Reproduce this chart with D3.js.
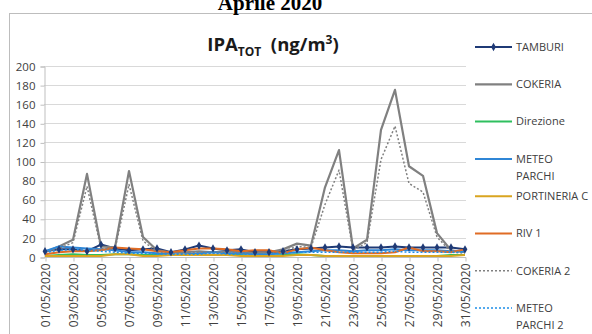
<!DOCTYPE html>
<html>
<head>
<meta charset="utf-8">
<script src="https://cdn.jsdelivr.net/npm/d3@7"></script>
<style>
  body { margin: 0; background: #fff; }
  svg { display: block; }
  text { white-space: pre; }
</style>
</head>
<body>
<script>
// ---------- DATA ----------
const days = d3.range(1, 32).map(d => (d < 10 ? "0" + d : "" + d) + "/05/2020");
const yTicks = [0, 20, 40, 60, 80, 100, 120, 140, 160, 180, 200];

const tamburi     = [6, 8, 8, 6, 13, 9, 7, 8, 9, 5, 8, 12, 9, 7, 8, 5, 5, 6, 8, 9, 10, 11, 10, 10, 10, 11, 10, 10, 10, 10, 8];
const cokeria     = [5, 11, 18, 87, 11, 10, 90, 21, 7, 5, 5, 6, 5, 6, 5, 4, 5, 8, 14, 12, 73, 112, 9, 18, 133, 175, 95, 85, 25, 7, 5];
const direzione   = [1, 2, 3, 2, 2, 3, 3, 2, 2, 2, 2, 2, 2, 2, 2, 1, 1, 2, 3, 2, 1, 1, 1, 1, 1, 1, 1, 1, 1, 2, 2];
const meteoParchi = [6, 11, 10, 9, 8, 7, 5, 5, 4, 3, 3, 4, 5, 4, 4, 3, 3, 4, 5, 6, 7, 7, 6, 7, 7, 8, 7, 7, 7, 6, 6];
const portineria  = [1, 1, 1, 1, 1, 3, 3, 1, 1, 2, 2, 2, 2, 2, 1, 1, 1, 1, 2, 2, 1, 1, 1, 1, 1, 1, 1, 1, 1, 1, 2];
const riv1        = [3, 5, 6, 6, 7, 10, 9, 8, 6, 5, 7, 9, 9, 8, 6, 7, 7, 4, 8, 10, 7, 5, 4, 4, 4, 5, 10, 6, 6, 5, 8];
const cokeria2    = [4, 9, 15, 74, 9, 8, 76, 17, 5, 4, 4, 5, 4, 5, 4, 3, 4, 6, 11, 10, 55, 91, 7, 15, 102, 137, 77, 68, 21, 5, 4];
const meteoParchi2= [5, 7, 8, 7, 6, 5, 4, 4, 3, 3, 3, 3, 4, 3, 3, 3, 3, 4, 5, 5, 5, 5, 5, 5, 5, 6, 5, 5, 5, 5, 5];

const seriesNames  = ["TAMBURI", "COKERIA", "Direzione", "METEO\nPARCHI", "PORTINERIA C", "RIV 1", "COKERIA 2", "METEO\nPARCHI 2"];
const seriesValues = [tamburi, cokeria, direzione, meteoParchi, portineria, riv1, cokeria2, meteoParchi2];
const seriesColors = ["#1f3a76", "#808080", "#2fbf5f", "#2f86d6", "#d9a520", "#e06c25", "#808080", "#1e8fe8"];
const seriesDash   = [null, null, null, null, null, null, "2,2", "2,2"];
const seriesWidth  = [2, 2.2, 2, 2, 2, 2, 1.5, 1.5];

// ---------- CHART ----------
const W = 592, H = 334;
const svg = d3.select("body").append("svg").attr("width", W).attr("height", H);

// chart area border
svg.append("rect").attr("x", 9.5).attr("y", 13.5).attr("width", 600).attr("height", 400)
  .attr("fill", "none").attr("stroke", "#bdbdbd").attr("stroke-width", 1);

// top title (partly cut off at the top, as in the reference)
svg.append("text").attr("x", 270).attr("y", 10).attr("text-anchor", "middle")
  .attr("font-family", "Liberation Serif").attr("font-weight", "bold").attr("font-size", 21)
  .attr("fill", "#000").text("Aprile 2020");

// chart title
const t = svg.append("text").attr("x", 273).attr("y", 51).attr("text-anchor", "middle")
  .attr("font-family", "Open Sans").attr("font-weight", 700).attr("font-size", 18.5).attr("fill", "#1a1a1a");
t.append("tspan").text("IPA");
t.append("tspan").attr("font-size", 12).attr("dy", 5).text("TOT");
t.append("tspan").attr("dy", -5).text("  (ng/m");
t.append("tspan").attr("font-size", 12).attr("dy", -7).text("3");
t.append("tspan").attr("dy", 7).text(")");

const x = d3.scalePoint().domain(days).range([45, 465]);
const y = d3.scaleLinear().domain([0, 200]).range([257, 66]);

// gridlines
svg.append("g").selectAll("line").data(yTicks.slice(1)).join("line")
  .attr("x1", 44).attr("x2", 466).attr("y1", d => Math.round(y(d)) + 0.5).attr("y2", d => Math.round(y(d)) + 0.5)
  .attr("stroke", "#d9d9d9").attr("stroke-width", 1);

// y axis
const yAxis = svg.append("g").attr("transform", "translate(44.5,0.5)")
  .call(d3.axisLeft(y).tickValues(yTicks).tickSize(4).tickPadding(5).tickFormat(d3.format("d")));
yAxis.select(".domain").attr("stroke", "#bfbfbf");
yAxis.selectAll(".tick line").attr("stroke", "#bfbfbf");
yAxis.selectAll(".tick text").attr("font-family", "Open Sans").attr("font-size", 11.5).attr("fill", "#404040");

// x axis
const xAxis = svg.append("g").attr("transform", "translate(0.5,257.5)")
  .call(d3.axisBottom(x).tickValues(days.filter((d, i) => i % 2 === 0)).tickSize(4).tickSizeOuter(0));
xAxis.select(".domain").attr("stroke", "#bfbfbf").attr("d", "M43.5,0H465.5");
xAxis.selectAll(".tick line").attr("stroke", "#bfbfbf");
xAxis.selectAll(".tick text")
  .attr("font-family", "Open Sans").attr("font-size", 12).attr("fill", "#404040")
  .attr("text-anchor", "end").attr("transform", "translate(0,6) rotate(-90)")
  .attr("x", 0).attr("y", 0).attr("dy", "0.35em");

// lines
const line = d3.line().x((d, i) => x(days[i])).y(d => y(d));
seriesValues.forEach((vals, s) => {
  svg.append("path").datum(vals)
    .attr("d", line).attr("fill", "none")
    .attr("stroke", seriesColors[s]).attr("stroke-width", seriesWidth[s])
    .attr("stroke-linejoin", "round")
    .attr("stroke-dasharray", seriesDash[s]);
});
// TAMBURI markers
const diamond = d3.symbol().type(d3.symbolDiamond).size(20);
svg.append("g").selectAll("path").data(tamburi).join("path")
  .attr("d", diamond).attr("fill", seriesColors[0])
  .attr("transform", (d, i) => `translate(${x(days[i])},${y(d)})`);

// legend
const lg = svg.append("g");
seriesNames.forEach((name, s) => {
  const ly = 47 + s * 37.3;
  lg.append("line").attr("x1", 475).attr("x2", 512).attr("y1", ly).attr("y2", ly)
    .attr("stroke", seriesColors[s]).attr("stroke-width", seriesWidth[s])
    .attr("stroke-dasharray", seriesDash[s]);
  if (s === 0) {
    lg.append("path").attr("d", diamond).attr("fill", seriesColors[0])
      .attr("transform", `translate(493.5,${ly})`);
  }
  const lines = name.split("\n");
  const tx = lg.append("text").attr("x", 516).attr("y", ly)
    .attr("font-family", "Open Sans").attr("font-size", 11).attr("fill", "#404040");
  lines.forEach((ln, k) => {
    tx.append("tspan").attr("x", 516).attr("dy", k === 0 ? "0.35em" : 17).text(ln);
  });
});
</script>
</body>
</html>
